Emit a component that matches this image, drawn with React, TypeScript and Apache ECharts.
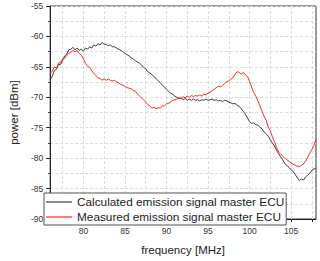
import React, { useEffect, useRef } from "react";
import * as echarts from "echarts";

const freq: number[] = [
  76.0, 76.25, 76.5, 76.75, 77.0, 77.25, 77.5, 77.75, 78.0, 78.25, 78.5, 78.75,
  79.0, 79.25, 79.5, 79.75, 80.0, 80.25, 80.5, 80.75, 81.0, 81.25, 81.5, 81.75,
  82.0, 82.25, 82.5, 82.75, 83.0, 83.25, 83.5, 83.75, 84.0, 84.25, 84.5, 84.75,
  85.0, 85.25, 85.5, 85.75, 86.0, 86.25, 86.5, 86.75, 87.0, 87.25, 87.5, 87.75,
  88.0, 88.25, 88.5, 88.75, 89.0, 89.25, 89.5, 89.75, 90.0, 90.25, 90.5, 90.75,
  91.0, 91.25, 91.5, 91.75, 92.0, 92.25, 92.5, 92.75, 93.0, 93.25, 93.5, 93.75,
  94.0, 94.25, 94.5, 94.75, 95.0, 95.25, 95.5, 95.75, 96.0, 96.25, 96.5, 96.75,
  97.0, 97.25, 97.5, 97.75, 98.0, 98.25, 98.5, 98.75, 99.0, 99.25, 99.5, 99.75,
  100.0, 100.25, 100.5, 100.75, 101.0, 101.25, 101.5, 101.75, 102.0, 102.25, 102.5, 102.75,
  103.0, 103.25, 103.5, 103.75, 104.0, 104.25, 104.5, 104.75, 105.0, 105.25, 105.5, 105.75,
  106.0, 106.25, 106.5, 106.75, 107.0, 107.25, 107.5, 107.75, 108.0,
];

const calculated: number[] = [
  -67.1, -66.6, -65.6, -65.4, -64.6, -64.6, -63.9, -63.2, -62.9, -62.2, -62.1, -61.8,
  -62.2, -61.9, -62.3, -62.1, -62.4, -61.9, -62.1, -61.7, -61.9, -61.4, -61.6, -61.2,
  -61.4, -61.0, -61.3, -61.3, -61.5, -61.4, -61.7, -61.7, -61.9, -62.1, -62.3, -62.5,
  -62.8, -63.0, -63.2, -63.5, -63.7, -64.0, -64.2, -64.4, -64.7, -65.1, -65.3, -65.8,
  -66.0, -66.3, -66.6, -66.9, -67.3, -67.6, -68.0, -68.3, -68.7, -69.0, -69.3, -69.5,
  -69.8, -70.0, -70.2, -70.1, -70.4, -70.2, -70.5, -70.3, -70.5, -70.3, -70.5, -70.4,
  -70.6, -70.4, -70.5, -70.3, -70.5, -70.4, -70.3, -70.5, -70.4, -70.6, -70.5, -70.7,
  -70.5, -70.6, -70.8, -70.9, -71.1, -71.0, -71.3, -71.5, -71.9, -72.3, -72.8, -73.4,
  -74.0, -74.3, -74.2, -74.5, -74.6, -74.9, -75.2, -75.7, -76.0, -76.4, -77.0, -77.5,
  -78.0, -78.7, -79.3, -79.8, -80.3, -80.9, -81.2, -81.5, -81.9, -82.2, -82.7, -83.2,
  -83.7, -83.4, -83.6, -83.1, -82.8, -82.5, -82.0, -81.8, -81.6,
];

const measured: number[] = [
  -66.1, -65.7, -65.0, -65.2, -64.4, -64.3, -63.7, -63.6, -63.1, -62.8, -62.6, -62.3,
  -62.5, -62.3, -62.8, -63.1, -63.7, -64.4, -64.9, -65.1, -65.6, -66.1, -66.4, -66.8,
  -66.9, -67.2, -67.0, -67.2, -67.0, -67.2, -67.3, -67.2, -67.5, -67.6, -67.9, -68.0,
  -68.2, -68.4, -68.5, -68.6, -68.9, -69.0, -69.4, -69.8, -70.1, -70.4, -70.8, -71.2,
  -71.4, -71.8, -71.6, -71.9, -71.7, -71.8, -71.4, -71.4, -71.1, -71.0, -70.8, -70.5,
  -70.4, -70.3, -70.1, -70.2, -69.9, -70.1, -69.8, -70.0, -69.7, -69.9, -69.7, -69.8,
  -69.6, -69.8, -69.5, -69.6, -69.3, -69.2, -68.9, -68.7, -68.4, -68.2, -68.3, -68.1,
  -67.7, -67.5, -67.3, -67.0, -66.8, -66.2, -65.8, -65.9, -66.2, -65.9, -66.3, -66.6,
  -67.4, -68.3, -69.2, -69.8, -70.6, -71.4, -72.3, -73.1, -73.8, -74.9, -75.5, -76.5,
  -77.3, -78.2, -79.0, -79.3, -79.7, -80.0, -80.3, -80.5, -80.8, -81.0, -81.2, -81.3,
  -81.4, -81.2, -80.9, -80.5, -79.9, -79.2, -78.6, -77.9, -76.9,
];

const xTicks: number[] = [77.5, 80, 82.5, 85, 87.5, 90, 92.5, 95, 97.5, 100, 102.5, 105, 107.5];
const xLabels: number[] = [80, 85, 90, 95, 100, 105];

const seriesNames: string[] = [
  "Calculated emission signal master ECU",
  "Measured emission signal master ECU",
];

const FONT = "'Liberation Sans', Arial, sans-serif";

export default function App() {
  const ref = useRef<HTMLDivElement>(null);

  useEffect(() => {
    if (!ref.current) return;
    const chart = echarts.init(ref.current, null, { renderer: "svg" });
    const gridLine = { show: true, lineStyle: { color: "#dcdcdc", type: [3, 2] as any, width: 1 } };
    chart.setOption({
      animation: false,
      backgroundColor: "#ffffff",
      textStyle: { fontFamily: FONT },
      grid: {
        left: 44,
        top: 6,
        right: 4,
        bottom: 37,
        show: true,
        borderColor: "#333",
        borderWidth: 1,
        backgroundColor: "transparent",
      },
      legend: {
        orient: "vertical",
        left: 44,
        top: 193,
        padding: [2, 2, 1, 2],
        itemGap: 1,
        itemWidth: 26,
        itemHeight: 1.2,
        icon: "rect",
        backgroundColor: "#fff",
        borderColor: "#555",
        borderWidth: 1,
        borderRadius: 0,
        textStyle: { fontSize: 11.8, color: "#222", fontFamily: FONT, lineHeight: 14 },
        data: seriesNames,
      },
      xAxis: {
        type: "value",
        min: 76,
        max: 108,
        name: "frequency [MHz]",
        nameLocation: "middle",
        nameGap: 25,
        nameTextStyle: { fontSize: 11.5, color: "#222", fontFamily: FONT },
        axisLine: { onZero: false, lineStyle: { color: "#222", width: 1 } },
        axisTick: { show: true, customValues: xTicks, length: 3, lineStyle: { color: "#222" } },
        axisLabel: { customValues: xLabels, fontSize: 8.5, color: "#333", margin: 7, fontFamily: FONT },
        splitLine: gridLine,
      },
      yAxis: {
        type: "value",
        min: -90,
        max: -55,
        interval: 5,
        name: "power [dBm]",
        nameLocation: "middle",
        nameGap: 29,
        nameTextStyle: { fontSize: 11.5, color: "#222", fontFamily: FONT },
        axisLine: { show: true, onZero: false, lineStyle: { color: "#222", width: 1 } },
        axisTick: { show: true, length: 4, lineStyle: { color: "#222" } },
        minorTick: { show: true, splitNumber: 2, length: 2, lineStyle: { color: "#222" } },
        axisLabel: { fontSize: 8.5, color: "#333", margin: 7, fontFamily: FONT },
        splitLine: gridLine,
        minorSplitLine: gridLine,
      },
      series: [
        {
          name: seriesNames[0],
          type: "line",
          data: freq.map((f, i) => [f, calculated[i]]),
          symbol: "none",
          lineStyle: { color: "#3a3a3a", width: 1 },
          itemStyle: { color: "#3a3a3a" },
        },
        {
          name: seriesNames[1],
          type: "line",
          data: freq.map((f, i) => [f, measured[i]]),
          symbol: "none",
          lineStyle: { color: "#ff2a2a", width: 1 },
          itemStyle: { color: "#ff2a2a" },
        },
      ],
    });
    return () => chart.dispose();
  }, []);

  return <div ref={ref} style={{ width: 320, height: 261, position: "absolute", left: 0, top: 0 }} />;
}
